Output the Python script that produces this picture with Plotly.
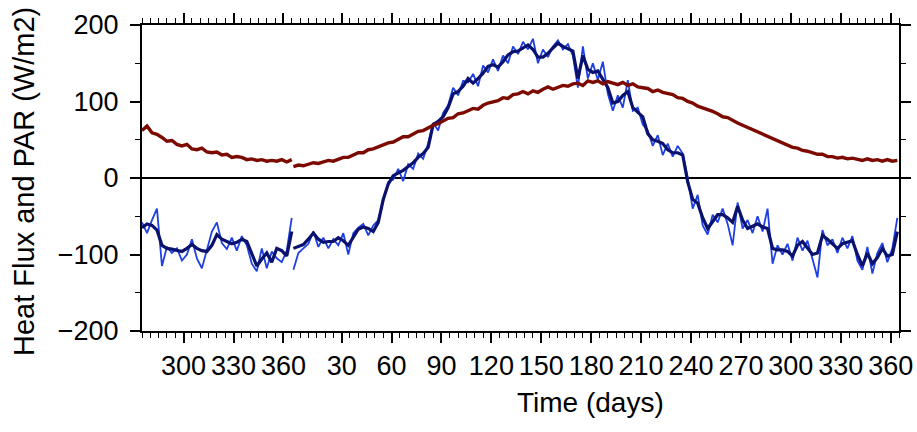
import plotly.graph_objects as go

# Sampling days (every 3 days) for the end of the previous year and the current year
YEAR_LEN = 365
prev_days = list(range(275, 366, 3))   # 31 samples
cur_days = list(range(1, 365, 3))      # 122 samples

# PAR (W/m2)
par_prev = [62, 68, 59, 57, 53, 48, 49, 44, 42, 44,
            38, 37, 39, 34, 33, 34, 30, 31, 27, 28,
            27, 24, 25, 23, 24, 22, 23, 22, 24, 21,
            24]
par_cur = [15, 17, 16, 18, 20, 19, 21, 23, 22, 24,
           27, 27, 30, 33, 33, 37, 38, 41, 43, 46,
           47, 50, 54, 54, 58, 61, 62, 66, 69, 71,
           75, 78, 79, 84, 85, 88, 91, 90, 95, 98,
           99, 101, 105, 104, 109, 110, 113, 110, 114, 112,
           116, 119, 116, 119, 121, 120, 123, 124, 121, 127,
           125, 127, 123, 126, 124, 122, 125, 121, 123, 119,
           118, 117, 113, 115, 112, 110, 109, 105, 104, 100,
           98, 94, 92, 89, 87, 84, 80, 79, 75, 72,
           69, 66, 63, 60, 57, 55, 51, 48, 46, 43,
           40, 39, 36, 35, 33, 31, 31, 28, 28, 26,
           27, 25, 26, 24, 23, 25, 23, 24, 22, 24,
           22, 23]

# Net heat flux, daily values (W/m2)
flux_raw_prev = [-58, -72, -55, -40, -115, -90, -98, -92, -108, -100,
                 -80, -105, -118, -92, -70, -58, -85, -93, -78, -95,
                 -76, -88, -112, -122, -92, -118, -96, -105, -110, -95,
                 -52]
flux_raw_cur = [-120, -98, -92, -86, -70, -90, -78, -92, -80, -88,
                -72, -100, -72, -65, -60, -75, -62, -55, -30, -5,
                -2, 12, -4, 18, 12, 32, 25, 45, 72, 62,
                85, 95, 118, 108, 127, 125, 136, 120, 147, 138,
                155, 140, 160, 150, 172, 162, 178, 168, 182, 150,
                168, 158, 172, 180, 168, 175, 160, 118, 172, 130,
                150, 128, 152, 110, 88, 108, 92, 128, 88, 92,
                70, 62, 42, 56, 30, 45, 28, 42, 32, 0,
                -40, -22, -62, -74, -48, -58, -40, -60, -88, -32,
                -66, -55, -72, -50, -70, -40, -112, -88, -100, -86,
                -108, -78, -95, -82, -106, -130, -68, -88, -80, -98,
                -78, -92, -76, -108, -120, -90, -125, -98, -85, -110,
                -92, -52]

# Net heat flux, smoothed (W/m2)
flux_smooth_prev = [-65, -60, -62, -68, -88, -92, -93, -95, -96, -92,
                    -87, -92, -95, -96, -88, -74, -80, -83, -86, -84,
                    -80, -83, -100, -115, -106, -98, -110, -92, -95, -102,
                    -70]
flux_smooth_cur = [-92, -90, -87, -80, -72, -80, -84, -83, -83, -78,
                   -82, -88, -77, -67, -64, -66, -70, -58, -28, -8,
                   3, 6, 10, 15, 20, 27, 32, 40, 70, 74,
                   80, 92, 110, 113, 120, 130, 124, 130, 137, 146,
                   148, 145, 152, 161, 165, 166, 170, 174, 168, 158,
                   158, 163, 170, 176, 172, 169, 166, 130, 160, 142,
                   138, 140, 128, 118, 98, 100, 108, 113, 92, 86,
                   80, 58, 50, 48, 45, 37, 33, 33, 30, -5,
                   -28, -33, -52, -66, -57, -48, -48, -52, -58, -37,
                   -55, -66, -63, -60, -64, -66, -92, -94, -94, -96,
                   -102, -88, -83, -92, -100, -98, -75, -80, -86, -92,
                   -86, -84, -82, -100, -115, -98, -112, -104, -92, -102,
                   -100, -70]

# Axis labelling (day of year); the first three belong to the previous year
tick_labels = [300, 330, 360, 30, 60, 90, 120, 150, 180, 210, 240, 270, 300, 330, 360]
tick_prev_year = [True, True, True] + [False] * 12
y_ticks = [-200, -100, 0, 100, 200]
y_minor = [-150, -50, 50, 150]

FONT = "Liberation Sans, Arial, Helvetica, sans-serif"


def to_axis(day, previous):
    return day - YEAR_LEN if previous else day


def series(prev_vals, cur_vals):
    x = [to_axis(d, True) for d in prev_days] + [None] + list(cur_days)
    y = list(prev_vals) + [None] + list(cur_vals)
    return x, y


tick_vals = [to_axis(d, p) for d, p in zip(tick_labels, tick_prev_year)]
minor_vals = [to_axis(d, True) for d in range(275, 366, 5)] + list(range(5, 366, 5))
minor_vals = [v for v in minor_vals if v not in tick_vals]

fig = go.Figure()

x, y = series(flux_raw_prev, flux_raw_cur)
fig.add_trace(go.Scatter(x=x, y=y, mode="lines", connectgaps=False,
                         line=dict(color="#1e3fe2", width=1.8), showlegend=False))
x, y = series(flux_smooth_prev, flux_smooth_cur)
fig.add_trace(go.Scatter(x=x, y=y, mode="lines", connectgaps=False,
                         line=dict(color="#0a126e", width=3.2), showlegend=False))
x, y = series(par_prev, par_cur)
fig.add_trace(go.Scatter(x=x, y=y, mode="lines", connectgaps=False,
                         line=dict(color="#7d0a00", width=3.4), showlegend=False))

axis_common = dict(
    showline=True, linecolor="black", linewidth=2, mirror="allticks",
    ticks="outside", ticklen=10, tickwidth=1.5, tickcolor="black",
    showgrid=False, automargin=False,
    tickfont=dict(family=FONT, size=27, color="black"),
)

fig.update_xaxes(
    range=[-90, 365], tickmode="array", tickvals=tick_vals,
    ticktext=[str(t) for t in tick_labels], zeroline=False,
    minor=dict(tickmode="array", tickvals=minor_vals, ticks="outside",
               ticklen=5, tickwidth=1.2, tickcolor="black", showgrid=False),
    **axis_common,
)
fig.update_yaxes(
    range=[-200, 200], tickmode="array", tickvals=y_ticks,
    zeroline=True, zerolinecolor="black", zerolinewidth=1.5,
    ticklabelstandoff=6,
    minor=dict(tickmode="array", tickvals=y_minor, ticks="outside",
               ticklen=5, tickwidth=1.2, tickcolor="black", showgrid=False),
    **axis_common,
)

fig.update_layout(
    width=917, height=432,
    margin=dict(l=142, r=18, t=25, b=101, autoexpand=False),
    paper_bgcolor="white", plot_bgcolor="white",
    font=dict(family=FONT, color="black"),
    annotations=[
        dict(text="Time (days)", xref="paper", yref="paper", x=0.593, y=-0.235,
             xanchor="center", yanchor="middle", showarrow=False,
             font=dict(family=FONT, size=28, color="black")),
        dict(text="Heat Flux and PAR (W/m2)", xref="paper", yref="paper",
             x=-0.156, y=0.49, textangle=-90, xanchor="center", yanchor="middle",
             showarrow=False, font=dict(family=FONT, size=29, color="black")),
    ],
)

fig.write_html("out.html")
